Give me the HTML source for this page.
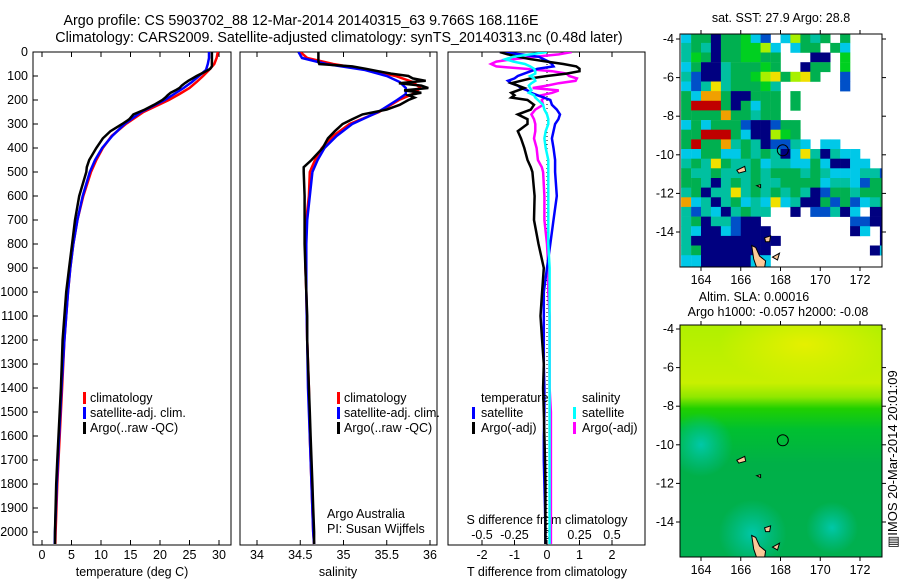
<!DOCTYPE html>
<html><head><meta charset="utf-8"><style>
html,body{margin:0;padding:0;background:#fff;}
svg{display:block;font-family:"Liberation Sans",sans-serif;}
text{font-size:12.5px;fill:#000;}
</style></head><body>
<svg id="chart" width="900" height="580" viewBox="0 0 900 580" xmlns="http://www.w3.org/2000/svg">
<text x="301" y="25" text-anchor="middle" style="font-size:14.3px">Argo profile: CS 5903702_88 12-Mar-2014 20140315_63 9.766S 168.116E</text>
<text x="339" y="42" text-anchor="middle" style="font-size:14.3px">Climatology: CARS2009. Satellite-adjusted climatology: synTS_20140313.nc (0.48d later)</text>
<g id="p1"></g>
<g id="p2"></g>
<g id="p3"></g>
<g id="m1"></g>
<g id="m2"></g>
<text transform="translate(897,548) rotate(-90)" style="font-size:13px">▥IMOS 20-Mar-2014 20:01:09</text>
</svg>
<script>
const depthsClim=[0,25,50,75,100,125,150,175,200,250,300,350,400,450,500,600,700,800,900,1000,1200,1400,1600,1800,2000,2050];
const tempClim=[29.8,29.6,29.2,28.3,27.3,26.2,25.0,23.3,21.5,17.2,14.2,11.8,10.3,9.2,8.3,7.0,6.0,5.3,4.8,4.4,3.8,3.4,3.0,2.6,2.3,2.25];
const tempSat=[28.3,28.3,28.1,27.8,26.6,25.4,24.0,22.4,20.8,16.8,14.0,11.9,10.2,9.0,8.1,6.9,6.0,5.3,4.8,4.4,3.8,3.3,2.9,2.5,2.2,2.15];
const salClim=[34.5,34.58,34.88,35.3,35.6,35.8,35.89,35.8,35.64,35.41,35.07,34.88,34.75,34.67,34.61,34.6,34.57,34.56,34.56,34.57,34.58,34.6,34.61,34.63,34.65,34.66];
const salSat=[34.48,34.52,34.8,35.25,35.5,35.65,35.72,35.72,35.62,35.4,35.1,34.92,34.78,34.7,34.64,34.61,34.58,34.57,34.57,34.57,34.58,34.59,34.61,34.63,34.65,34.66];
const depthsArgo=[0,10,20,30,40,50,60,70,80,90,100,110,120,130,140,150,160,170,180,190,200,220,240,260,280,300,330,360,400,450,480,500,600,700,800,900,1000,1100,1200,1300,1400,1500,1600,1700,1800,1900,2000,2050];
const tempArgo=[28.8,28.8,28.8,28.8,28.8,28.8,28.8,28.5,27.8,27,26.2,25.5,24.8,24.2,23.7,23.3,22.6,21.8,21.3,20.9,20.4,19.0,17.4,15.5,14.8,13.6,11.6,10.3,9.2,8.0,7.6,7.5,6.3,5.6,5.1,4.6,4.1,3.8,3.5,3.35,3.2,3.0,2.8,2.6,2.4,2.3,2.2,2.2];
const salArgo=[34.71,34.71,34.71,34.71,34.71,34.72,35.1,35.26,35.4,35.55,35.75,35.8,35.95,35.64,35.9,35.98,35.7,35.9,35.75,35.82,35.75,35.65,35.5,35.22,35.1,34.99,34.9,34.82,34.76,34.63,34.54,34.54,34.55,34.55,34.55,34.56,34.57,34.58,34.58,34.59,34.6,34.61,34.62,34.63,34.64,34.65,34.66,34.66];
const tDiffArgo=[-1.45,-1.2,-0.9,-0.5,0.0,0.5,0.9,1.0,1.0,0.6,0.0,-0.5,-0.8,-1.1,-0.9,-0.7,-0.9,-1.1,-1.0,-1.1,-0.6,-0.4,-0.5,-0.9,-0.6,-0.6,-0.9,-0.8,-0.7,-0.6,-0.5,-0.45,-0.38,-0.4,-0.26,-0.1,-0.15,-0.2,-0.15,-0.1,-0.12,-0.1,-0.08,-0.06,-0.05,-0.05,-0.05,-0.05];
const tDiffSat=[-1.45,-0.8,-0.25,-0.1,0.05,0.15,0.2,-0.3,-0.5,-0.7,-0.9,-1.0,-1.2,-1.1,-0.9,-0.8,-0.6,-0.5,-0.3,-0.1,0.1,0.15,0.3,0.4,0.35,0.25,0.2,0.15,0.2,0.25,0.25,0.25,0.3,0.2,0.1,0.0,-0.1,-0.1,-0.1,-0.1,-0.08,-0.08,-0.1,-0.1,-0.08,-0.06,-0.05,-0.05];
const sDiffArgo=[0.19,0.09,-0.09,-0.26,-0.39,-0.43,-0.39,-0.17,0.04,0.15,0.17,0.23,0.22,0.09,0.0,-0.11,0.09,0.04,-0.04,-0.02,-0.04,-0.03,-0.09,-0.12,-0.1,-0.09,-0.09,-0.1,-0.08,-0.07,-0.04,-0.03,-0.02,-0.02,0.0,0.01,0.01,0.02,0.02,0.02,0.02,0.03,0.03,0.03,0.03,0.03,0.03,0.03];
const sDiffSat=[0.0,-0.13,-0.26,-0.32,-0.26,-0.17,-0.13,-0.1,-0.09,-0.09,-0.13,-0.1,-0.09,-0.12,-0.14,-0.13,-0.12,-0.14,-0.1,-0.09,-0.07,-0.03,-0.02,0.0,0.01,0.01,-0.01,-0.02,-0.01,0.01,0.01,0.01,0.01,0.01,0.01,0.02,0.02,0.02,0.02,0.02,0.02,0.02,0.02,0.02,0.02,0.02,0.02,0.02];
const depthTicks=[0,100,200,300,400,500,600,700,800,900,1000,1100,1200,1300,1400,1500,1600,1700,1800,1900,2000];
const tempTicks=[0,5,10,15,20,25,30];
const salTicks=[34,34.5,35,35.5,36];
const tDiffTicks=[-2,-1,0,1,2];
const sDiffTicks=[-0.5,-0.25,0,0.25,0.5];
const sstRows=[
"cggbggGcB.cygtg.g....",
"tgtbggGGyc.cgg.gc....",
"tGgbggGGgg...bb.G....",
"cgbbtgggGg..bgg.G....",
"tBbbtggGyYgyYg..B....",
"cBtYtgggGt......B....",
"gcoogbbggg.g.........",
"grrrgbgcgg.g.........",
"ggggoggtgg...........",
"cgcgggBbbBgg.........",
"ggrrrgcbbyGg.........",
"grggotgtbBBtc.cc.....",
"ccggccgtgtbcYtbtcc...",
"tgtYgttgcttccgcbbcc..",
"gttgtttgtgggtgtcccttB",
"ggtbtgtgttggggcttcBgg",
"tgbttYtgtgtgtbBggtggg",
"octbtgctcYctbbgBgBctg",
"tBtcbtgtt..b.BBtbc.bb",
"tgbttBbb.........BBbb",
"tcbbcBbbb........bc.b",
"tbbbbbbbbb..........b",
"tgbbbbbbb..........bc",
"ccbbbbbcc............",
"ccbbbbbcc............"];
const sstColors={g:"#00b050",G:"#00d020",t:"#00c0a0",c:"#00c8e8",b:"#000080",B:"#0050c8",y:"#a8f000",Y:"#f0e000",o:"#f0a000",r:"#c00000"};
const NS="http://www.w3.org/2000/svg";
const svg=document.getElementById('chart');
function mk(tag,attrs,parent){const e=document.createElementNS(NS,tag);for(const k in attrs)e.setAttribute(k,attrs[k]);(parent||svg).appendChild(e);return e;}
const Y0=52,YS=0.24;
function yD(d){return Y0+d*YS;}
function linScale(v0,p0,v1,p1){return v=>p0+(v-v0)*(p1-p0)/(v1-v0);}
const xT=linScale(0,42,30,219);
const xS=linScale(34,257,36,430);
const xTD=linScale(0,547,2,612);
const xSD=linScale(0,547,0.5,612);
const pTop=52,pBot=545;
function frame(g,x0,x1){
  const r=mk('rect',{x:x0,y:pTop,width:x1-x0,height:pBot-pTop,fill:'none',stroke:'#000','stroke-width':1},g);
  
  
}
function xAxis(g,ticks,sc,fmt,labelY){
  ticks.forEach(t=>{const x=sc(t);
    const a=mk('line',{x1:x,x2:x,y1:pBot,y2:pBot-5,stroke:'#000'},g);
    
    
    const b=mk('line',{x1:x,x2:x,y1:pTop,y2:pTop+5,stroke:'#000'},g);
    
    
    const tx=mk('text',{x:x,y:labelY,'text-anchor':'middle'},g);tx.textContent=fmt(t);
    
    
  });
}
function series(g,xs,ds,sc,color,name,w){
  const pts=xs.map((v,i)=>sc(v).toFixed(1)+','+yD(ds[i]).toFixed(1)).join(' ');
  const p=mk('polyline',{points:pts,fill:'none',stroke:color,'stroke-width':w||2.5,'stroke-linejoin':'miter'},g);
  
  
}
function txt(g,x,y,s,name,anchor){const t=mk('text',{x:x,y:y,'text-anchor':anchor||'start'},g);t.textContent=s;
  
  return t;}
function legMark(g,x,y,color){const r=mk('rect',{x:x,y:y-10,width:3,height:12,fill:color},g);
  
  }
function clipFor(id,x0,x1){const c=mk('clipPath',{id:id});mk('rect',{x:x0,y:pTop,width:x1-x0,height:pBot-pTop},c);return 'url(#'+id+')';}
// Panel 1
const p1=document.getElementById('p1');
frame(p1,33,231);
depthTicks.forEach(d=>{const y=yD(d);
  const l=mk('line',{x1:33,x2:38,y1:y,y2:y,stroke:'#000'},p1);
  
  
  const t=mk('text',{x:28,y:y+4,'text-anchor':'end'},p1);t.textContent=d;
  
  
});
xAxis(p1,tempTicks,xT,v=>String(v),559);
txt(p1,132,576,'temperature (deg C)','x-axis-title','middle');
const g1=mk('g',{'clip-path':clipFor('c1',33,231)},p1);
series(g1,tempClim,depthsClim,xT,'#ff0000','temp-climatology-line');
series(g1,tempSat,depthsClim,xT,'#0000ff','temp-satellite-line');
series(g1,tempArgo,depthsArgo,xT,'#000000','temp-argo-line');
legMark(p1,83,402,'#ff0000');txt(p1,90,402,'climatology','legend-climatology');
legMark(p1,83,417,'#0000ff');txt(p1,90,417,'satellite-adj. clim.','legend-satellite');
legMark(p1,83,432,'#000000');txt(p1,90,432,'Argo(..raw -QC)','legend-argo');
// Panel 2
const p2=document.getElementById('p2');
frame(p2,240,437);
xAxis(p2,salTicks,xS,v=>String(v),559);
txt(p2,338,576,'salinity','x-axis-title','middle');
const g2=mk('g',{'clip-path':clipFor('c2',240,437)},p2);
series(g2,salClim,depthsClim,xS,'#ff0000','sal-climatology-line');
series(g2,salSat,depthsClim,xS,'#0000ff','sal-satellite-line');
series(g2,salArgo,depthsArgo,xS,'#000000','sal-argo-line');
legMark(p2,337,402,'#ff0000');txt(p2,344,402,'climatology','legend-climatology');
legMark(p2,337,417,'#0000ff');txt(p2,344,417,'satellite-adj. clim.','legend-satellite');
legMark(p2,337,432,'#000000');txt(p2,344,432,'Argo(..raw -QC)','legend-argo');
txt(p2,327,518,'Argo Australia','credit-line-1');
txt(p2,327,533,'PI: Susan Wijffels','credit-line-2');
// Panel 3
const p3=document.getElementById('p3');
frame(p3,448,645);
tDiffTicks.forEach(t=>{const x=xTD(t);
  const a=mk('line',{x1:x,x2:x,y1:pTop,y2:pTop+5,stroke:'#000'},p3);
  
  
  const b=mk('line',{x1:x,x2:x,y1:pBot,y2:pBot-5,stroke:'#000'},p3);
  
  
  const tx=mk('text',{x:x,y:559,'text-anchor':'middle'},p3);tx.textContent=String(t);
  
  
});
sDiffTicks.forEach(t=>{const tx=mk('text',{x:xSD(t),y:539,'text-anchor':'middle'},p3);tx.textContent=String(t);
  
  
});
txt(p3,547,576,'T difference from climatology','x-axis-title','middle');
txt(p3,547,524,'S difference from climatology','s-axis-title','middle');
const zl=mk('line',{x1:xTD(0),x2:xTD(0),y1:pTop,y2:pBot,stroke:'#000','stroke-dasharray':'1,3'},p3);


const g3=mk('g',{'clip-path':clipFor('c3',448,645)},p3);
series(g3,sDiffArgo,depthsArgo,xSD,'#ff00ff','s-diff-argo-line');
series(g3,tDiffSat,depthsArgo,xTD,'#0000ff','t-diff-satellite-line');
series(g3,tDiffArgo,depthsArgo,xTD,'#000000','t-diff-argo-line');
series(g3,sDiffSat,depthsArgo,xSD,'#00ffff','s-diff-satellite-line');
txt(p3,481,402,'temperature','legend-temperature-heading');
legMark(p3,472,417,'#0000ff');txt(p3,481,417,'satellite','legend-t-satellite');
legMark(p3,472,432,'#000000');txt(p3,481,432,'Argo(-adj)','legend-t-argo');
txt(p3,582,402,'salinity','legend-salinity-heading');
legMark(p3,573,417,'#00ffff');txt(p3,582,417,'satellite','legend-s-satellite');
legMark(p3,573,432,'#ff00ff');txt(p3,582,432,'Argo(-adj)','legend-s-argo');
// Maps
const lonTicks=[164,166,168,170,172];
const latTicks=[-4,-6,-8,-10,-12,-14];
function mapAxes(g,x0,x1,y0,y1,lonS,latS){
  lonTicks.forEach(l=>{const x=lonS(l);
    const a=mk('line',{x1:x,x2:x,y1:y1,y2:y1+4,stroke:'#000'},g);
    
    
    const b=mk('line',{x1:x,x2:x,y1:y0,y2:y0-4,stroke:'#000'},g);
    
    
    const t=mk('text',{x:x,y:y1+17,'text-anchor':'middle'},g);t.textContent=l;
    
    
  });
  latTicks.forEach(l=>{const y=latS(l);
    const a=mk('line',{x1:x0,x2:x0-4,y1:y,y2:y,stroke:'#000'},g);
    
    
    const b=mk('line',{x1:x1,x2:x1+4,y1:y,y2:y,stroke:'#000'},g);
    
    
    const t=mk('text',{x:x0-6,y:y+4,'text-anchor':'end'},g);t.textContent=l;
    
    
  });
  const r=mk('rect',{x:x0,y:y0,width:x1-x0,height:y1-y0,fill:'none',stroke:'#000'},g);
  
  
}
function land(g,lonS,latS){
  const isl=[[166.55,-14.7,166.75,-14.8,166.95,-15.25,167.25,-15.5,167.2,-15.85,166.8,-15.85,166.65,-15.4],[165.8,-10.8,166.2,-10.6,166.25,-10.85,165.9,-10.95],[167.2,-14.3,167.5,-14.2,167.45,-14.5,167.25,-14.5],[167.6,-15.3,167.95,-15.1,167.85,-15.45],[166.8,-11.6,167.0,-11.55,167.0,-11.7]];
  isl.forEach(p=>{let pts=[];for(let i=0;i<p.length;i+=2)pts.push(lonS(p[i]).toFixed(1)+','+latS(p[i+1]).toFixed(1));
    const e=mk('polygon',{points:pts.join(' '),fill:'#fcc898',stroke:'#000','stroke-width':1},g);
    
    
  });
  const c=mk('circle',{cx:lonS(168.116),cy:latS(-9.766),r:5.5,fill:'none',stroke:'#000','stroke-width':1},g);
  
  
}
// SST map
const m1=document.getElementById('m1');
const M1={x0:680,x1:882,y0:34,y1:267};
const lon1=linScale(164,701,172,860), lat1=linScale(-4,39,-14,232);
const cm1=mk('clipPath',{id:'cm1'});
mk('rect',{x:M1.x0,y:M1.y0,width:M1.x1-M1.x0,height:M1.y1-M1.y0},cm1);
const gm1=mk('g',{'clip-path':'url(#cm1)'},m1);
sstRows.forEach((row,ri)=>{for(let ci=0;ci<row.length;ci++){const ch=row[ci];if(ch==='.')continue;
  const la=-3.7-ri*0.5, lo=163+ci*0.5;
  const x=lon1(lo), y=lat1(la), w=lon1(lo+0.5)-x, h=lat1(la-0.5)-y;
  const r=mk('rect',{x:x.toFixed(1),y:y.toFixed(1),width:(w+0.3).toFixed(1),height:(h+0.3).toFixed(1),fill:sstColors[ch]},gm1);
  
  
}});
land(gm1,lon1,lat1);
mapAxes(m1,M1.x0,M1.x1,M1.y0,M1.y1,lon1,lat1);
txt(m1,781,22,'sat. SST: 27.9 Argo: 28.8','sst-map-title','middle');
// SLA map
const m2=document.getElementById('m2');
const M2={x0:680,x1:882,y0:325,y1:557};
const lon2=linScale(164,701,172,860), lat2=linScale(-4,329,-14,522);
const defs=mk('defs',{});
defs.innerHTML='<linearGradient id="slaV" x1="0" y1="0" x2="0" y2="1"><stop offset="0" stop-color="#b0f000"/><stop offset="0.25" stop-color="#c8f000"/><stop offset="0.31" stop-color="#90e800"/><stop offset="0.36" stop-color="#20d000"/><stop offset="0.45" stop-color="#00c030"/><stop offset="0.6" stop-color="#00b048"/><stop offset="1" stop-color="#00b050"/></linearGradient>'+
'<radialGradient id="slaY" cx="0.55" cy="0.25" r="0.5"><stop offset="0" stop-color="#f0f000" stop-opacity="0.8"/><stop offset="1" stop-color="#f0f000" stop-opacity="0"/></radialGradient>'+
'<radialGradient id="slaT1"><stop offset="0" stop-color="#00c8a8"/><stop offset="1" stop-color="#00c0a0" stop-opacity="0"/></radialGradient>'+
'<clipPath id="cm2"><rect x="680" y="325" width="202" height="232"/></clipPath>';
const gm2=mk('g',{'clip-path':'url(#cm2)'},m2);
const bg=mk('rect',{x:M2.x0,y:M2.y0,width:M2.x1-M2.x0,height:M2.y1-M2.y0,fill:'url(#slaV)'},gm2);


const yb=mk('rect',{x:M2.x0+30,y:M2.y0,width:M2.x1-M2.x0-30,height:78,fill:'url(#slaY)'},gm2);


[[164,-10,32],[166.6,-14.6,34],[170.6,-14.3,26]].forEach(s=>{const c=mk('circle',{cx:lon2(s[0]),cy:lat2(s[1]),r:s[2],fill:'url(#slaT1)'},gm2);
  
  });
land(gm2,lon2,lat2);
mapAxes(m2,M2.x0,M2.x1,M2.y0,M2.y1,lon2,lat2);
txt(m2,754,301,'Altim. SLA: 0.00016','sla-map-title','middle');
txt(m2,778,316,'Argo h1000: -0.057 h2000: -0.08','sla-map-subtitle','middle');
</script>
</body></html>
